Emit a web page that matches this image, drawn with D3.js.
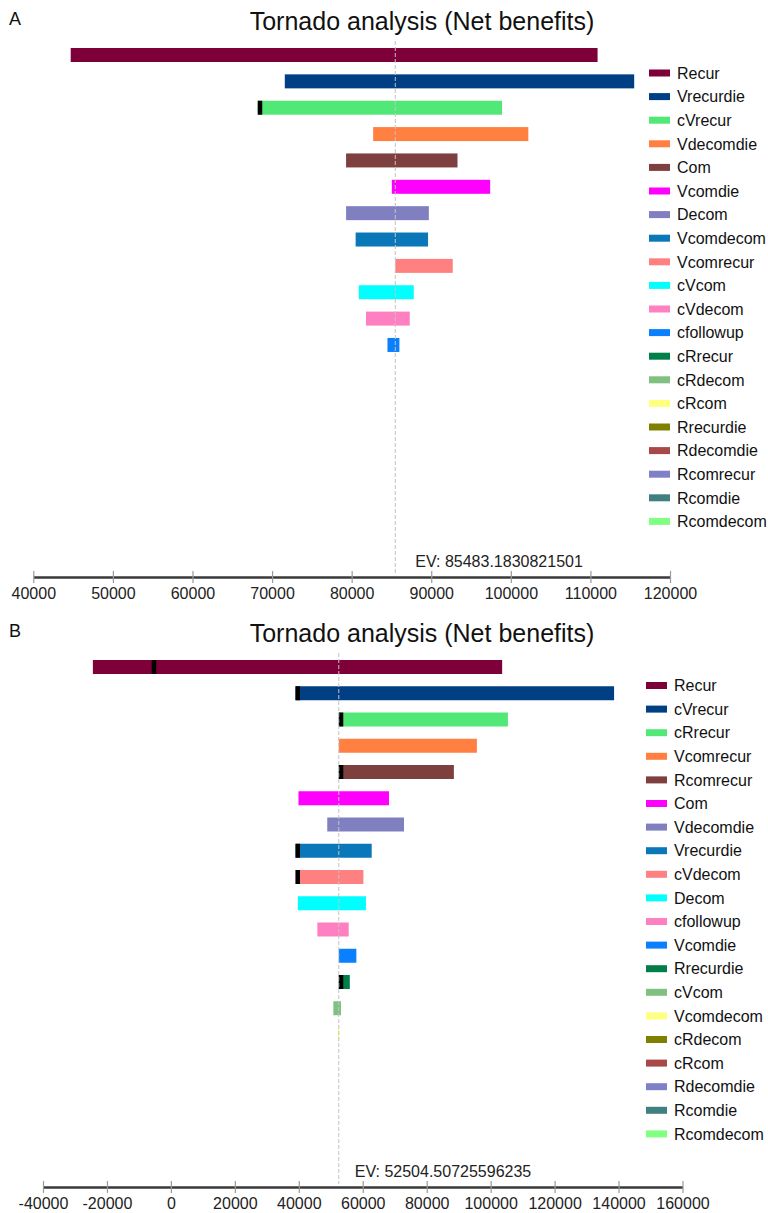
<!DOCTYPE html>
<html>
<head>
<meta charset="utf-8">
<script src="https://cdn.jsdelivr.net/npm/d3@7"></script>
<style>
  html, body { margin: 0; padding: 0; background: #fff; }
  svg { display: block; font-family: "Liberation Sans", Arial, Helvetica, sans-serif; }
</style>
</head>
<body>
<svg id="chart" width="768" height="1213"></svg>
<script>
// Shared colour sequence: the n-th variable in each tornado gets the n-th colour
const palette = [
  "#7d0038", "#003f83", "#52e878", "#ff8040", "#7e3f3f",
  "#ff00ff", "#8080c0", "#0a78b8", "#ff8080", "#00ffff",
  "#ff80c0", "#0a80ff", "#008048", "#80c080", "#ffff80",
  "#808000", "#a84848", "#8080c8", "#408080", "#80ff80"
];

// ---- Panel A: parameters ranked by spread of net benefit ----
const catsA = ["Recur", "Vrecurdie", "cVrecur", "Vdecomdie", "Com", "Vcomdie", "Decom",
  "Vcomdecom", "Vcomrecur", "cVcom", "cVdecom", "cfollowup", "cRrecur", "cRdecom",
  "cRcom", "Rrecurdie", "Rdecomdie", "Rcomrecur", "Rcomdie", "Rcomdecom"];
const lowA = [44700, 71600, 68200, 82700, 79300, 85050, 79300, 80500, 85483, 80900,
  81800, 84500, 85483, 85483, 85483, 85483, 85483, 85483, 85483, 85483];
const highA = [110900, 115500, 98900, 102200, 93300, 97400, 89700, 89600, 92700, 87800,
  87300, 86000, 85483, 85483, 85483, 85483, 85483, 85483, 85483, 85483];
// threshold markers (variable, value where the black mark begins)
const markA = [["cVrecur", 68200]];
const evA = 85483.1830821501;
const ticksA = [40000, 50000, 60000, 70000, 80000, 90000, 100000, 110000, 120000];

// ---- Panel B ----
const catsB = ["Recur", "cVrecur", "cRrecur", "Vcomrecur", "Rcomrecur", "Com", "Vdecomdie",
  "Vrecurdie", "cVdecom", "Decom", "cfollowup", "Vcomdie", "Rrecurdie", "cVcom",
  "Vcomdecom", "cRdecom", "cRcom", "Rdecomdie", "Rcomdie", "Rcomdecom"];
const lowB = [-24400, 38970, 52504, 52504, 52504, 39900, 48900, 38970, 38970, 39700,
  45800, 52504, 52504, 50800, 52300, 52504, 52504, 52504, 52504, 52504];
const highB = [103600, 138600, 105400, 95700, 88500, 68200, 72900, 62800, 60200, 61000,
  55600, 58000, 55950, 53200, 52700, 52504, 52504, 52504, 52504, 52504];
const markB = [["Recur", -6000], ["cVrecur", 38970], ["cRrecur", 52504], ["Rcomrecur", 52504],
  ["Vrecurdie", 38970], ["cVdecom", 38970], ["Rrecurdie", 52504]];
const evB = 52504.50725596235;
const ticksB = [-40000, -20000, 0, 20000, 40000, 60000, 80000, 100000, 120000, 140000, 160000];

const title = "Tornado analysis (Net benefits)";

const svg = d3.select("#chart");

function tornado(cfg) {
  const g = svg.append("g").attr("transform", `translate(0,${cfg.top})`);

  const x = d3.scaleLinear().domain(cfg.domain).range(cfg.xRange);
  const y = d3.scalePoint().domain(cfg.cats).range([55, 55 + 19 * cfg.step]);
  const barH = 14;

  // panel letter and title
  g.append("text").attr("x", 9).attr("y", 25)
    .attr("font-size", 18).attr("fill", "#111").text(cfg.letter);
  g.append("text").attr("x", 422).attr("y", 30).attr("text-anchor", "middle")
    .attr("font-size", 25).attr("fill", "#111").text(title);

  // bars
  g.selectAll("rect.bar").data(cfg.cats).join("rect")
    .attr("class", "bar")
    .attr("x", (d, i) => x(cfg.low[i]))
    .attr("width", (d, i) => Math.max(0, x(cfg.high[i]) - x(cfg.low[i])))
    .attr("y", d => y(d) - barH / 2)
    .attr("height", barH)
    .attr("fill", (d, i) => palette[i]);

  // black threshold marks
  g.selectAll("rect.mark").data(cfg.marks).join("rect")
    .attr("class", "mark")
    .attr("x", d => x(d[1]))
    .attr("width", 4.5)
    .attr("y", d => y(d[0]) - barH / 2)
    .attr("height", barH)
    .attr("fill", "#000");

  // expected value reference line
  g.append("line")
    .attr("x1", x(cfg.ev)).attr("x2", x(cfg.ev))
    .attr("y1", 41).attr("y2", cfg.axisY - 3)
    .attr("stroke", "#c4c4c4").attr("stroke-width", 1)
    .attr("stroke-dasharray", "4,2");

  g.append("text").attr("x", x(cfg.ev) + cfg.evDx).attr("y", cfg.axisY - 10)
    .attr("font-size", 16).attr("fill", "#222")
    .text("EV: " + cfg.evLabel);

  // value axis (plain hyphen for negatives)
  const axis = d3.axisBottom(x).tickValues(cfg.ticks).tickFormat(d => String(d))
    .tickSizeInner(0).tickSizeOuter(0).tickPadding(cfg.tickPad);
  const ax = g.append("g").attr("transform", `translate(0,${cfg.axisY})`).call(axis);
  ax.select(".domain").attr("stroke", "#3a3a3a").attr("stroke-width", 2.6);
  ax.selectAll(".tick").append("line")
    .attr("y1", -6).attr("y2", 6).attr("stroke", "#9a9a9a").attr("stroke-width", 1.2);
  ax.selectAll(".tick text").attr("font-size", 16).attr("fill", "#222")
    .attr("font-family", "\"Liberation Sans\", Arial, sans-serif");

  // legend
  const leg = g.append("g");
  const ly = d3.scalePoint().domain(cfg.cats).range([cfg.legTop, cfg.legTop + 19 * 23.6]);
  leg.selectAll("rect").data(cfg.cats).join("rect")
    .attr("x", cfg.legX).attr("y", d => ly(d) - 3.5)
    .attr("width", 21).attr("height", 7)
    .attr("fill", (d, i) => palette[i]);
  leg.selectAll("text").data(cfg.cats).join("text")
    .attr("x", cfg.legX + 28).attr("y", d => ly(d)).attr("dy", "0.36em")
    .attr("font-size", 16).attr("fill", "#111")
    .text(d => d);
}

tornado({
  top: 0, letter: "A", cats: catsA, low: lowA, high: highA, marks: markA,
  domain: [40000, 120000], xRange: [33.3, 670], ticks: ticksA,
  ev: evA, evLabel: "85483.1830821501", evDx: 20, axisY: 577, tickPad: 11,
  legX: 649, legTop: 73, step: 26.36
});

tornado({
  top: 612, letter: "B", cats: catsB, low: lowB, high: highB, marks: markB,
  domain: [-40000, 160000], xRange: [43, 682.5], ticks: ticksB,
  ev: evB, evLabel: "52504.50725596235", evDx: 16, axisY: 575, tickPad: 10.5,
  legX: 646, legTop: 73.5, step: 26.25
});
</script>
</body>
</html>
